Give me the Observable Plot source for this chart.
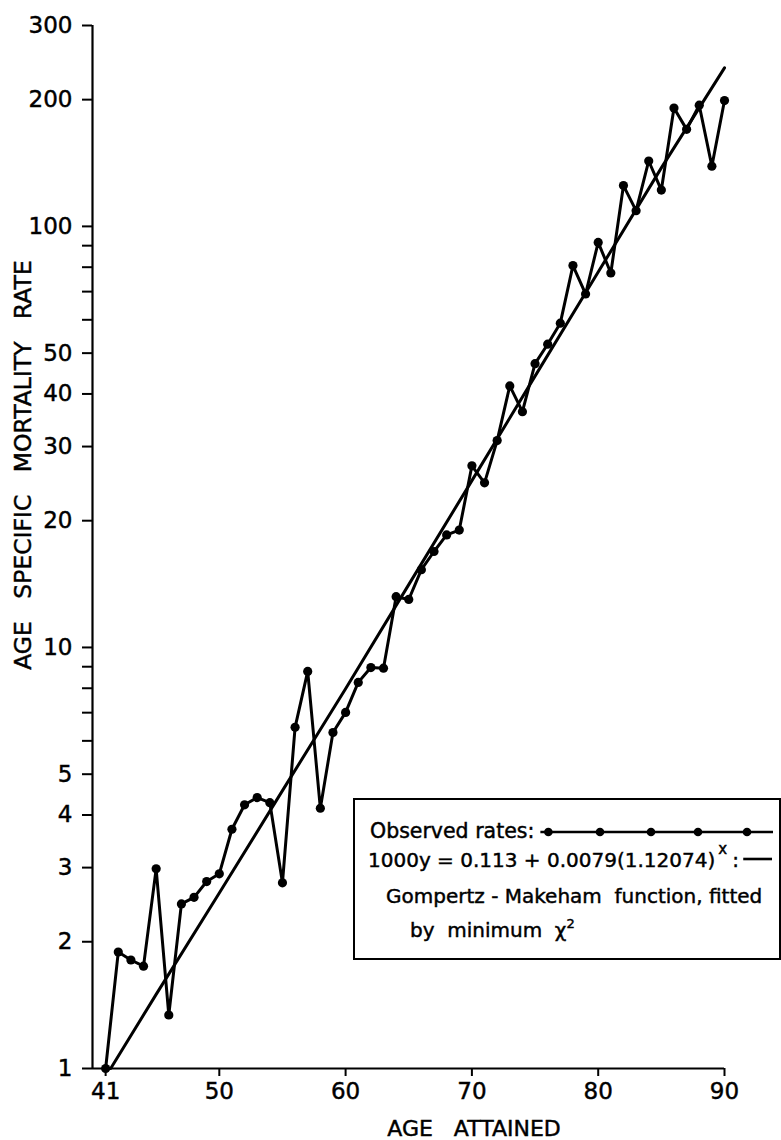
<!DOCTYPE html>
<html><head><meta charset="utf-8">
<script src="https://cdn.jsdelivr.net/npm/d3@7"></script>
<script src="https://cdn.jsdelivr.net/npm/@observablehq/plot@0.6"></script>
<style>body{margin:0;background:#fff;} svg{display:block} svg text{stroke:black;stroke-width:0.45px;}</style>
</head><body><div id="chart"></div>
<script>
const ages = [41,42,43,44,45,46,47,48,49,50,51,52,53,54,55,56,57,58,59,60,61,62,63,64,65,66,67,68,69,70,71,72,73,74,75,76,77,78,79,80,81,82,83,84,85,86,87,88,89,90];
const rates = [1.0,1.89,1.81,1.75,2.98,1.34,2.46,2.55,2.78,2.90,3.70,4.23,4.40,4.28,2.76,6.46,8.77,4.15,6.28,7.01,8.26,8.96,8.93,13.2,13.0,15.3,16.9,18.5,19.0,27.0,24.6,31.0,41.8,36.3,47.2,52.5,58.9,80.7,69.1,91.6,77.5,125,109,143,122,191,170,194,139,199];
const fitAges = [41.4,45,50,55,60,65,70,75,80,85,90];
const fitRates = [1.0,1.5,2.61,4.57,7.98,14.1,24.9,44.1,77.9,137.7,238];
const xTicks = [41,50,60,70,80,90];
const yTicks = [1,2,3,4,5,6,7,8,9,10,20,30,40,50,60,70,80,90,100,200,300];
const yLabels = [1,2,3,4,5,10,20,30,40,50,100,200,300];
const xDomain = [39.96, 90];
const yDomain = [1, 300];

const observed = ages.map((a,i)=>({age:a, rate:rates[i]}));
const fitted = fitAges.map((a,i)=>({age:a, rate:fitRates[i]}));

const font = "DejaVu Sans";
const isLabel = d => yLabels.some(v => Math.abs(d - v) / v < 1e-6);
const plot = Plot.plot({
  width: 781, height: 1140,
  marginLeft: 92, marginRight: 57, marginTop: 25, marginBottom: 72,
  style: {fontFamily: font, fontSize: "23px", color: "black", background: "white"},
  x: {type: "linear", domain: xDomain},
  y: {type: "log", domain: yDomain},
  marks: [
    Plot.ruleX([xDomain[0]], {y1: yDomain[0], y2: yDomain[1], stroke: "black", strokeWidth: 2.2}),
    Plot.ruleY([yDomain[0]], {x1: xDomain[0], x2: xDomain[1], stroke: "black", strokeWidth: 2.2}),
    Plot.axisY(yTicks, {tickFormat: d => isLabel(d) ? String(Math.round(d)) : "", tickSize: 10, tickPadding: 10, strokeWidth: 2, label: null, fontSize: 23}),
    Plot.axisX(xTicks, {tickFormat: d => String(d), tickSize: 8, tickPadding: 6, strokeWidth: 2, label: null, fontSize: 23}),
    Plot.line(fitted, {x: "age", y: "rate", stroke: "black", strokeWidth: 3}),
    Plot.line(observed, {x: "age", y: "rate", stroke: "black", strokeWidth: 3}),
    Plot.dot(observed, {x: "age", y: "rate", r: 4.6, fill: "black"})
  ]
});
document.getElementById("chart").appendChild(plot);
const svg = d3.select(plot);

// axis titles
svg.append("text").attr("x", 474).attr("y", 1136).attr("text-anchor", "middle")
  .attr("font-family", font).attr("font-size", 22).attr("fill", "black")
  .text("AGE\u00A0\u00A0\u00A0ATTAINED");
svg.append("text").attr("transform", "translate(31,465) rotate(-90)").attr("text-anchor", "middle")
  .attr("font-family", font).attr("font-size", 23.5).attr("fill", "black")
  .text("AGE\u00A0\u00A0\u00A0SPECIFIC\u00A0\u00A0\u00A0MORTALITY\u00A0\u00A0\u00A0RATE");

// legend
const lg = svg.append("g").attr("font-family", font).attr("font-size", 20).attr("fill", "black").attr("text-anchor", "start");
lg.append("rect").attr("x", 354).attr("y", 799).attr("width", 426).attr("height", 160)
  .attr("fill", "white").attr("stroke", "black").attr("stroke-width", 2);
const obs = lg.append("text").attr("x", 370).attr("y", 838).attr("font-size", 20.5).text("Observed rates:");
const obsEnd = 370 + obs.node().getComputedTextLength();
lg.append("line").attr("x1", obsEnd + 6).attr("x2", 773).attr("y1", 832).attr("y2", 832).attr("stroke", "black").attr("stroke-width", 2.6);
[obsEnd + 14, 600, 651, 698, 747].forEach(cx => lg.append("circle").attr("cx", cx).attr("cy", 832).attr("r", 4.3).attr("fill", "black"));
const eq = lg.append("text").attr("x", 368).attr("y", 867).text("1000y = 0.113 + 0.0079(1.12074)");
const eqEnd = 368 + eq.node().getComputedTextLength();
lg.append("text").attr("x", eqEnd + 3).attr("y", 854).attr("font-size", 15).text("x");
lg.append("text").attr("x", eqEnd + 17).attr("y", 867).text(":");
lg.append("line").attr("x1", eqEnd + 28).attr("x2", 772).attr("y1", 859).attr("y2", 859).attr("stroke", "black").attr("stroke-width", 2.6);
lg.append("text").attr("x", 386).attr("y", 903).text("Gompertz - Makeham\u00A0 function, fitted");
const by = lg.append("text").attr("x", 410).attr("y", 937);
by.append("tspan").text("by\u00A0 minimum\u00A0 χ");
by.append("tspan").attr("dy", -9).attr("font-size", 13).text("2");
</script>
</body></html>
